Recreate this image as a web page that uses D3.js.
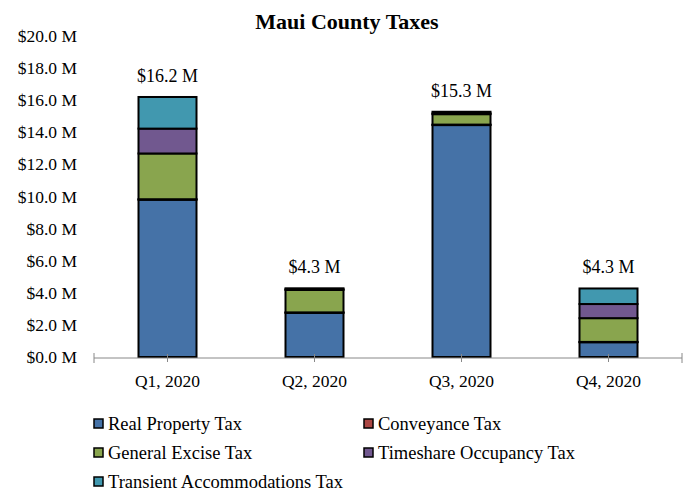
<!DOCTYPE html>
<html>
<head>
<meta charset="utf-8">
<script src="https://cdn.jsdelivr.net/npm/d3@7"></script>
<style>
  body { margin: 0; background: #fff; }
  svg text { font-family: "Liberation Serif", "Times New Roman", serif; fill: #000; }
</style>
</head>
<body>
<div id="chart"></div>
<script>
// quarters and tax series (millions of dollars)
const quarters = ['Q1, 2020', 'Q2, 2020', 'Q3, 2020', 'Q4, 2020'];
const seriesNames = ['Real Property Tax', 'Conveyance Tax', 'General Excise Tax',
                     'Timeshare Occupancy Tax', 'Transient Accommodations Tax'];
const realProperty = [9.8, 2.75, 14.45, 0.92];
const conveyance = [0.03, 0.03, 0.03, 0.02];
const generalExcise = [2.85, 1.4, 0.65, 1.48];
const timeshare = [1.55, 0.04, 0.05, 0.88];
const transient = [1.97, 0.06, 0.1, 0.97];
const totalLabels = ['$16.2 M', '$4.3 M', '$15.3 M', '$4.3 M'];
const yTicks = [0, 2, 4, 6, 8, 10, 12, 14, 16, 18, 20];

const colors = ['#4572A7', '#AA4643', '#89A54E', '#71588F', '#4198AF'];

const width = 691, height = 491;
const margin = { top: 36, left: 94, right: 9, bottom: 134 };
const plotW = width - margin.left - margin.right;
const plotH = height - margin.top - margin.bottom;

const rows = quarters.map((q, i) => ({
  quarter: q,
  s0: realProperty[i], s1: conveyance[i], s2: generalExcise[i],
  s3: timeshare[i], s4: transient[i], label: totalLabels[i]
}));
const keys = ['s0', 's1', 's2', 's3', 's4'];
const stacked = d3.stack().keys(keys)(rows);

const svg = d3.select('#chart').append('svg')
  .attr('width', width)
  .attr('height', height);

const xc = d3.scaleBand().domain(quarters).range([0, plotW]);
const y = d3.scaleLinear().domain([0, 20]).range([plotH, 0]);

const g = svg.append('g')
  .attr('transform', 'translate(' + margin.left + ',' + margin.top + ')');

// title
svg.append('text')
  .attr('x', 347).attr('y', 29)
  .attr('text-anchor', 'middle')
  .style('font-size', '22px')
  .style('font-weight', 'bold')
  .text('Maui County Taxes');

// y labels (no axis line)
g.selectAll('.ylab')
  .data(yTicks)
  .enter().append('text')
  .attr('class', 'ylab')
  .attr('x', -17)
  .attr('y', d => y(d) + 6)
  .attr('text-anchor', 'end')
  .style('font-size', '17.5px')
  .text(d => '$' + d.toFixed(1) + ' M');

// bars
g.selectAll('.series')
  .data(stacked)
  .enter().append('g')
  .attr('class', 'series')
  .attr('fill', (d, i) => colors[i])
  .selectAll('rect')
  .data(d => d)
  .enter().append('rect')
  .attr('x', d => xc(d.data.quarter) + xc.bandwidth() / 2 - 29)
  .attr('width', 58)
  .attr('y', d => y(d[1]))
  .attr('height', d => y(d[0]) - y(d[1]))
  .attr('stroke', '#000')
  .attr('stroke-width', 2);

// totals
g.selectAll('.total')
  .data(rows)
  .enter().append('text')
  .attr('class', 'total')
  .attr('x', d => xc(d.quarter) + xc.bandwidth() / 2)
  .attr('y', d => y(d.s0 + d.s1 + d.s2 + d.s3 + d.s4) - 15)
  .attr('text-anchor', 'middle')
  .style('font-size', '18px')
  .text(d => d.label);

// x axis
const ax = g.append('g').attr('transform', 'translate(0,' + (plotH + 1) + ')');
ax.append('line')
  .attr('x1', 0).attr('x2', plotW)
  .attr('stroke', '#888').attr('stroke-width', 1);
[0, plotW].forEach(px => {
  ax.append('line').attr('x1', px).attr('x2', px).attr('y1', -5).attr('y2', 5)
    .attr('stroke', '#888');
});
ax.selectAll('.ctick')
  .data(quarters)
  .enter().append('line')
  .attr('x1', d => xc(d) + xc.bandwidth() / 2)
  .attr('x2', d => xc(d) + xc.bandwidth() / 2)
  .attr('y1', -4).attr('y2', 4)
  .attr('stroke', '#888');
ax.selectAll('.xlab')
  .data(quarters)
  .enter().append('text')
  .attr('x', d => xc(d) + xc.bandwidth() / 2)
  .attr('y', 29)
  .attr('text-anchor', 'middle')
  .style('font-size', '17.5px')
  .text(d => d);

// legend
const legendPos = [[93, 424], [363, 424], [93, 453], [363, 453], [93, 482]];
const legend = svg.selectAll('.legend')
  .data(seriesNames)
  .enter().append('g')
  .attr('class', 'legend')
  .attr('transform', (d, i) => 'translate(' + legendPos[i][0] + ',' + legendPos[i][1] + ')');
legend.append('rect')
  .attr('x', 1).attr('y', -5)
  .attr('width', 9).attr('height', 9)
  .attr('fill', (d, i) => colors[i])
  .attr('stroke', '#000').attr('stroke-width', 1.5);
legend.append('text')
  .attr('x', 15).attr('y', 6)
  .style('font-size', '18.5px')
  .text(d => d);
</script>
</body>
</html>
